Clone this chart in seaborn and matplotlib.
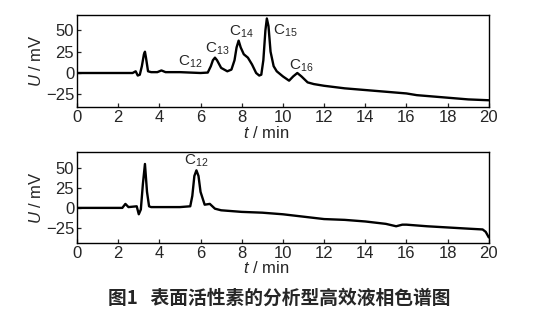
import matplotlib
matplotlib.use("Agg")
import matplotlib.pyplot as plt
import seaborn as sns
import pandas as pd

# Top chromatogram (time in min, signal in mV)
top_t = [0, 2.7, 2.85, 2.95, 3.05, 3.15, 3.25, 3.3, 3.35, 3.45, 3.6, 3.9, 4.1, 4.3, 5.0, 6.0,
         6.35, 6.5, 6.6, 6.7, 6.8, 7.0, 7.3, 7.5, 7.65, 7.75, 7.85, 7.95, 8.1, 8.3, 8.5, 8.7,
         8.85, 8.95, 9.05, 9.15, 9.22, 9.3, 9.4, 9.55, 9.7, 10.0, 10.3, 10.5, 10.7, 10.9, 11.2,
         11.5, 12, 13, 14, 15, 16, 16.5, 17, 18, 19, 20]
top_u = [0, 0, 2, -3, -2, 8, 22, 25, 18, 2, 1, 1, 3, 1, 1, 0,
         0.5, 8, 15, 18, 15, 6, 2, 4, 15, 30, 38, 30, 22, 18, 10, 0,
         -3, -2, 15, 50, 64, 55, 25, 8, 2, -4, -9, -4, 0, -4, -11,
         -13, -15, -18, -20, -22, -24, -26, -27, -29, -31, -32]

# Bottom chromatogram
bot_t = [0, 2.2, 2.35, 2.5, 2.9, 3.0, 3.1, 3.2, 3.3, 3.4, 3.5, 3.6, 4.0, 5.0, 5.5, 5.6, 5.7,
         5.8, 5.9, 6.0, 6.2, 6.45, 6.7, 7.0, 8, 9, 10, 11, 12, 13, 14, 15, 15.5, 15.8, 16, 17,
         18, 19, 19.7, 19.85, 20]
bot_u = [0, 0, 5, 1, 2, -8, -2, 30, 55, 20, 2, 1, 1, 1, 2, 15, 40,
         47, 40, 20, 4, 5, -1, -3, -5, -6, -8, -11, -14, -15, -17, -20, -23, -21, -21, -23,
         -24.5, -26, -27, -30, -37]

x_ticks = [0, 2, 4, 6, 8, 10, 12, 14, 16, 18, 20]
y_ticks = [-25, 0, 25, 50]

top_labels = ["C$_{12}$", "C$_{13}$", "C$_{14}$", "C$_{15}$", "C$_{16}$"]
top_label_t = [5.5, 6.8, 8.0, 10.1, 10.9]
top_label_u = [3, 19, 39, 40, -1]
bot_labels = ["C$_{12}$"]
bot_label_t = [5.8]
bot_label_u = [49]

caption = "图1   表面活性素的分析型高效液相色谱图"

sns.set_theme(style="ticks")
plt.rcParams["font.family"] = ["Liberation Sans", "DejaVu Sans"]
plt.rcParams["mathtext.fontset"] = "custom"
plt.rcParams["mathtext.rm"] = "Liberation Sans"
plt.rcParams["mathtext.it"] = "Liberation Sans:italic"

fig = plt.figure(figsize=(5.58, 3.14), dpi=100)
ax1 = fig.add_axes([0.138, 0.659, 0.738, 0.293])
ax2 = fig.add_axes([0.138, 0.226, 0.738, 0.290])

df_top = pd.DataFrame({"t": top_t, "u": top_u})
df_bot = pd.DataFrame({"t": bot_t, "u": bot_u})

panels = [
    (ax1, df_top, (-40, 68), top_labels, top_label_t, top_label_u),
    (ax2, df_bot, (-44, 70), bot_labels, bot_label_t, bot_label_u),
]
for ax, df, ylim, labs, lt, lu in panels:
    sns.lineplot(data=df, x="t", y="u", ax=ax, color="black", linewidth=1.7)
    ax.set_xlim(0, 20)
    ax.set_ylim(*ylim)
    ax.set_xticks(x_ticks)
    ax.set_yticks(y_ticks)
    ax.set_yticklabels(["\u221225", "0", "25", "50"])
    ax.tick_params(direction="in", length=3, labelsize=12, pad=2, width=0.9)
    for s in ax.spines.values():
        s.set_linewidth(1.0)
        s.set_color("black")
    ax.set_xlabel("$\\it{t}$ / min", fontsize=12)
    ax.xaxis.set_label_coords(0.46, -0.19)
    ax.set_ylabel("$\\it{U}$ / mV", fontsize=12, labelpad=1)
    for text, x, y in zip(labs, lt, lu):
        ax.text(x, y, text, fontsize=11, ha="center", va="bottom")

fig.text(0.5, 0.05, caption, ha="center", va="center", fontsize=13.5, fontweight="bold",
         family=["Noto Sans CJK SC", "DejaVu Sans"])

fig.savefig("out.png", dpi=100, facecolor="white")
